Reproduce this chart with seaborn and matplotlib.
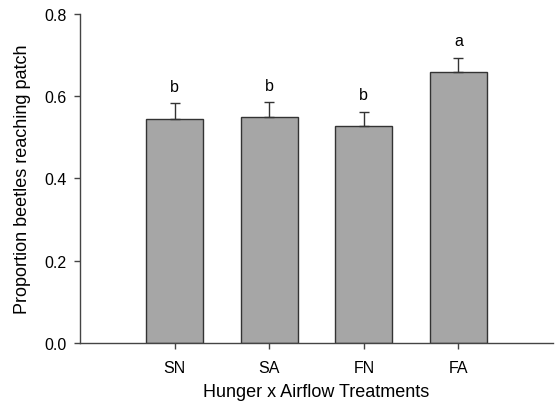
import matplotlib
matplotlib.use("Agg")
import matplotlib.pyplot as plt
import seaborn as sns
import pandas as pd
import numpy as np

treatments = ["SN", "SA", "FN", "FA"]
means = [0.545, 0.549, 0.528, 0.660]
errors = [0.038, 0.036, 0.034, 0.033]
letters = ["b", "b", "b", "a"]
yticks = [0.0, 0.2, 0.4, 0.6, 0.8]

sns.set_theme(style="ticks")
plt.rcParams["font.family"] = ["Liberation Sans", "DejaVu Sans"]

df = pd.DataFrame({"Treatment": treatments, "Proportion": means})

fig = plt.figure(figsize=(5.57, 4.02), dpi=100)
ax = fig.add_axes([0.1436, 0.1443, 0.8494, 0.8184])

sns.barplot(data=df, x="Treatment", y="Proportion", order=treatments,
            color="#a6a6a6", saturation=1, width=0.6, errorbar=None,
            edgecolor="#333333", linewidth=1.0, ax=ax)

x = np.arange(len(treatments))
ax.errorbar(x, means, yerr=[np.zeros(len(errors)), errors], fmt="none",
            ecolor="#333333", elinewidth=1.0, capsize=3.6, capthick=1.0)

for xi, m, e, lab in zip(x, means, errors, letters):
    ax.annotate(lab, (xi, m + e), xytext=(0, 7), textcoords="offset points",
                ha="center", va="bottom", fontsize=11.5, color="black")

ax.set_xlim(-1, 4)
ax.set_ylim(0, 0.8)
ax.set_yticks(yticks)
ax.set_yticklabels([f"{t:.1f}" for t in yticks])
ax.set_xlabel("Hunger x Airflow Treatments", fontsize=13, labelpad=6, color="black")
ax.set_ylabel("Proportion beetles reaching patch", fontsize=13, labelpad=10, color="black")
ax.tick_params(axis="both", labelsize=11.5, length=4, width=1.0,
               color="#444444", direction="out", labelcolor="black")
ax.tick_params(axis="x", pad=8)
ax.tick_params(axis="y", pad=5.5)
for s in ["top", "right"]:
    ax.spines[s].set_visible(False)
for s in ["left", "bottom"]:
    ax.spines[s].set_color("#444444")
    ax.spines[s].set_linewidth(1.0)

fig.savefig("out.png", dpi=100)
